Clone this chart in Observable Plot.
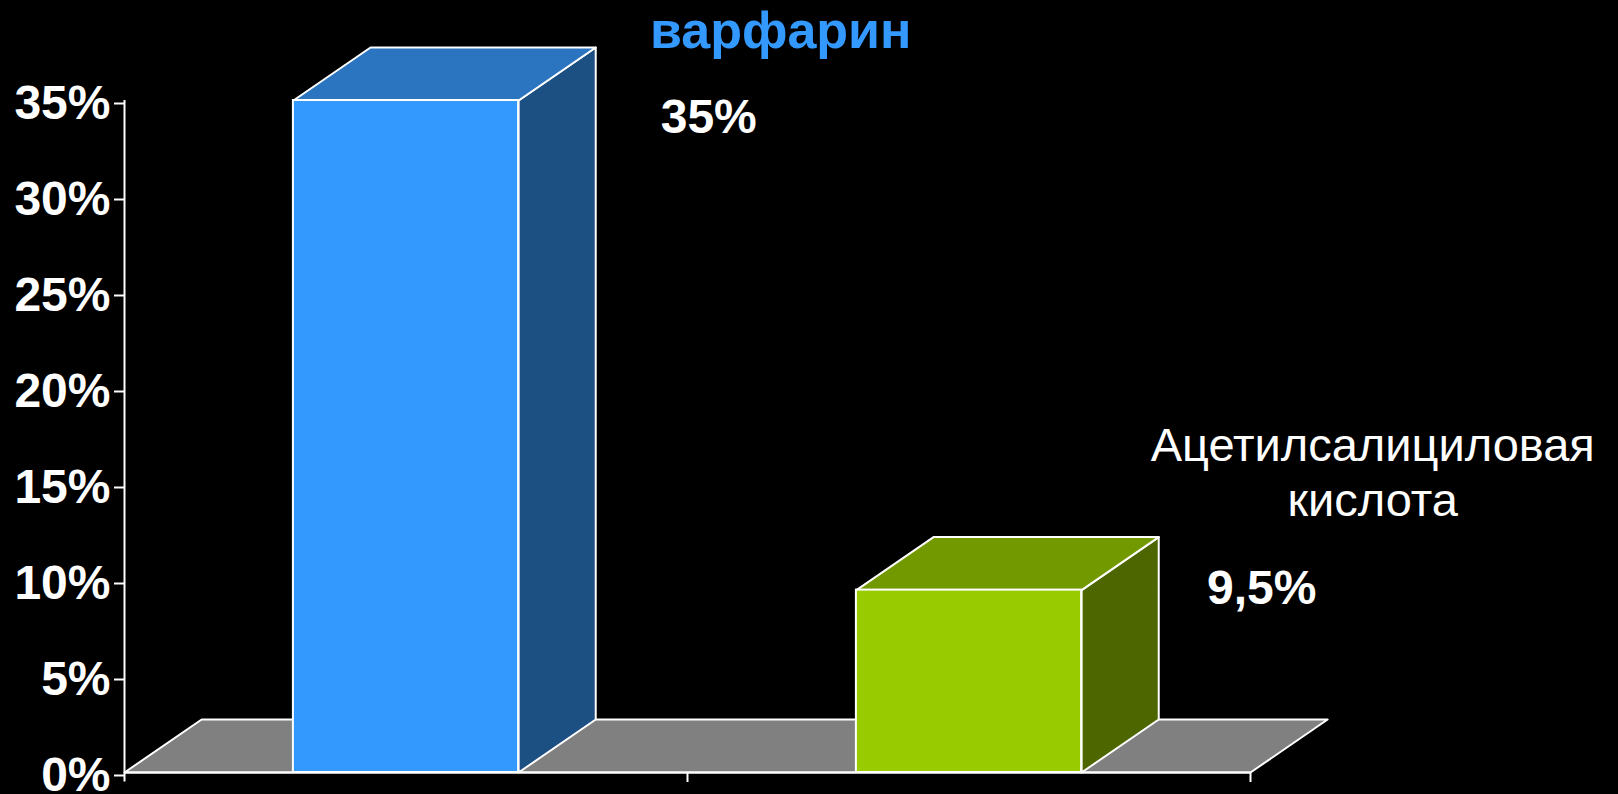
<!DOCTYPE html>
<html>
<head>
<meta charset="utf-8">
<script src="https://cdn.jsdelivr.net/npm/d3@7"></script>
<script src="https://cdn.jsdelivr.net/npm/@observablehq/plot@0.6"></script>
<style>
  html, body { margin: 0; padding: 0; background: #000; overflow: hidden; }
  #chart svg { display: block; background: #000; }
</style>
</head>
<body>
<div id="chart"></div>
<script>
// ---- data ----
const categories = ["варфарин", "Ацетилсалициловая\nкислота"];
const values = [35, 9.5];
const valueLabels = ["35%", "9,5%"];
const yTicks = [0, 5, 10, 15, 20, 25, 30, 35];
const frontColors = ["#3399FF", "#99CC00"];
const topColors = ["#2B74BF", "#739900"];
const sideColors = ["#1C4F82", "#4D6600"];

// ---- layout (3D look) ----
const barL = 0.3, barR = 0.7;   // bar extent within each category slot
const depthX = 0.137;            // depth offset in x units
const depthY = 2.76;             // depth offset in y units (%)
const nCat = categories.length;

const bars = values.map((v, i) => ({i, v, x1: i + barL, x2: i + barR, name: categories[i], label: valueLabels[i]}));

// polygons (closed) built from values
const poly = [];
// floor
[[0, 0], [nCat, 0], [nCat + depthX, depthY], [depthX, depthY], [0, 0]]
  .forEach(([x, y]) => poly.push({z: "floor", x, y, fill: "#808080"}));
bars.forEach(b => {
  [[b.x2, 0], [b.x2 + depthX, depthY], [b.x2 + depthX, b.v + depthY], [b.x2, b.v], [b.x2, 0]]
    .forEach(([x, y]) => poly.push({z: "side" + b.i, x, y, fill: sideColors[b.i]}));
  [[b.x1, b.v], [b.x2, b.v], [b.x2 + depthX, b.v + depthY], [b.x1 + depthX, b.v + depthY], [b.x1, b.v]]
    .forEach(([x, y]) => poly.push({z: "top" + b.i, x, y, fill: topColors[b.i]}));
});

const font = "'Liberation Sans', Arial, sans-serif";
const bx = b => b.x2 + depthX;
const by = b => b.v + depthY;

const chart = Plot.plot({
  width: 1618,
  height: 794,
  marginLeft: 124,
  marginRight: 368,
  marginTop: 100,
  marginBottom: 22,
  style: {background: "#000", color: "#fff", fontFamily: font},
  x: {domain: [0, nCat], axis: null},
  y: {domain: [0, 35], axis: null},
  marks: [
    Plot.line(poly, {x: "x", y: "y", z: "z", fill: "fill", stroke: "#fff", strokeWidth: 2, strokeLinejoin: "round"}),
    Plot.rect(bars, {x1: "x1", x2: "x2", y1: 0, y2: "v", fill: (d) => frontColors[d.i], stroke: "#fff", strokeWidth: 2}),
    // axes
    Plot.ruleX([0], {y1: -0.5, y2: 35, stroke: "#fff", strokeWidth: 2}),
    Plot.ruleY([0], {x1: 0, x2: nCat, stroke: "#fff", strokeWidth: 2}),
    Plot.axisY({ticks: yTicks, tickSize: 10, tickPadding: 4, tickFormat: d => d + "%", fontSize: 48, fontWeight: "bold", fill: "#fff", stroke: "#fff", strokeWidth: 2, dy: 3}),
    Plot.axisX({ticks: d3.range(1, nCat + 1), tickSize: 10, tickFormat: () => "", stroke: "#fff", strokeWidth: 2}),
    // category labels
    Plot.text([bars[0]], {x: bx, y: by, text: "name", dx: 185, dy: -16, fill: frontColors[0], fontSize: 52, fontWeight: "bold", fontFamily: font}),
    Plot.text([bars[1]], {x: bx, y: by, text: "name", dx: 214, dy: -66, fill: "#fff", fontSize: 47, lineHeight: 1.17, fontFamily: font}),
    // value labels
    Plot.text([bars[0]], {x: bx, y: by, text: "label", dx: 113, dy: 70, fill: "#fff", fontSize: 48, fontWeight: "bold", fontFamily: font}),
    Plot.text([bars[1]], {x: bx, y: by, text: "label", dx: 103, dy: 52, fill: "#fff", fontSize: 48, fontWeight: "bold", fontFamily: font})
  ]
});
document.getElementById("chart").appendChild(chart);
</script>
</body>
</html>
